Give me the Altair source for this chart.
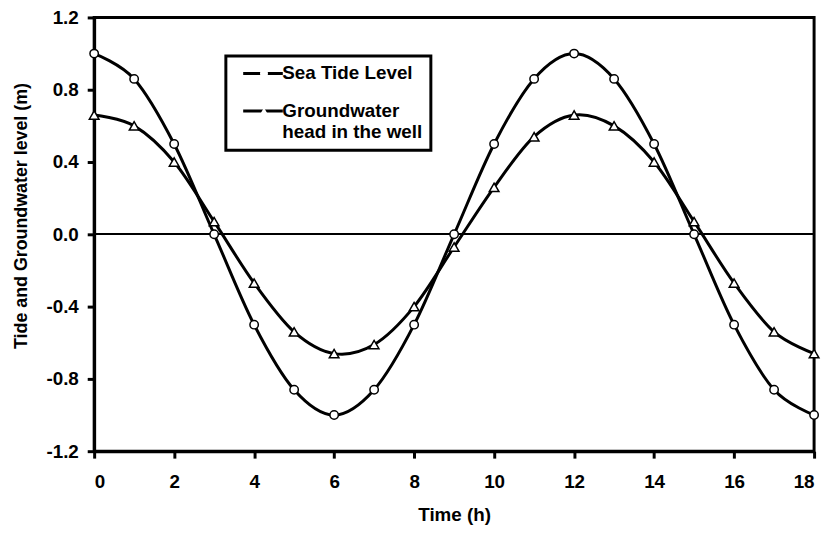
import altair as alt
import pandas as pd

hours = list(range(19))
tide = [1.00, 0.86, 0.50, 0.00, -0.50, -0.86, -1.00, -0.86, -0.50, 0.00,
        0.50, 0.86, 1.00, 0.86, 0.50, 0.00, -0.50, -0.86, -1.00]
groundwater = [0.66, 0.60, 0.40, 0.07, -0.27, -0.54, -0.66, -0.61, -0.40, -0.07,
               0.26, 0.54, 0.66, 0.60, 0.40, 0.07, -0.27, -0.54, -0.66]
series_names = ["Sea Tide Level", "Groundwater head in the well"]
x_ticks = [0, 2, 4, 6, 8, 10, 12, 14, 16, 18]
y_ticks = [-1.2, -0.8, -0.4, 0.0, 0.4, 0.8, 1.2]

rows = []
for h, v in zip(hours, tide):
    rows.append({"t": h, "v": v, "series": series_names[0]})
for h, v in zip(hours, groundwater):
    rows.append({"t": h, "v": v, "series": series_names[1]})
df = pd.DataFrame(rows)
marker_names = [n + " " for n in series_names]

FONT = "Liberation Sans"
LABEL_EXPR = ("indexof(datum.label, 'Groundwater') >= 0 ? "
              "['Groundwater', 'head in the well'] : datum.label")

x_enc = alt.X("t:Q", scale=alt.Scale(domain=[0, 18], nice=False),
              axis=alt.Axis(values=x_ticks, title="Time (h)", labelPadding=15,
                            titleY=55, titleBaseline="top"))
y_enc = alt.Y("v:Q", scale=alt.Scale(domain=[-1.2, 1.2], nice=False),
              axis=alt.Axis(values=y_ticks, title="Tide and Groundwater level (m)",
                            labelExpr="replace(format(datum.value, '.1f'), '\u2212', '-')",
                            labelPadding=9, titleX=-64, titleY=200, titleFontSize=18))

zero = alt.Chart(df).mark_rule(color="black", strokeWidth=1).encode(
    y=alt.datum(0)
)

common_legend = dict(
    title=None, orient="none", legendX=133, legendY=39,
    labelExpr=LABEL_EXPR, labelFont=FONT, labelFontSize=19, labelFontWeight="bold",
    labelColor="black", labelLimit=400, rowPadding=18, padding=8,
    symbolOpacity=1,
)

# legend A: line glyph + labels + frame
line_legend = alt.Legend(
    symbolType="M-4,0L4,0", symbolSize=100, symbolStrokeWidth=3,
    symbolStrokeColor="black", symbolOffset=20, labelOffset=10,
    strokeColor="black", fillColor="white", zindex=0, **common_legend,
)
lines = alt.Chart(df).mark_line(strokeWidth=3, interpolate="cardinal").encode(
    x=x_enc, y=y_enc,
    color=alt.Color("series:N", scale=alt.Scale(domain=series_names, range=["black", "black"]),
                    legend=line_legend),
)

# legend B: marker glyph drawn over the line glyph, invisible labels keep same layout
point_legend = alt.Legend(
    symbolSize=64, symbolStrokeWidth=1.5, symbolFillColor="white",
    symbolStrokeColor="black", symbolOffset=21, labelOffset=10, labelOpacity=0,
    zindex=1, **common_legend,
)
points = alt.Chart(df).transform_calculate(
    marker="datum.series + ' '"
).mark_point(filled=False, fill="white", strokeWidth=1.5, opacity=1).encode(
    x="t:Q", y="v:Q",
    shape=alt.Shape("marker:N",
                    scale=alt.Scale(domain=marker_names, range=["circle", "triangle-up"]),
                    legend=point_legend),
    color=alt.Color("marker:N",
                    scale=alt.Scale(domain=marker_names, range=["black", "black"]),
                    legend=None),
    size=alt.condition("datum.series == 'Sea Tide Level'", alt.value(72), alt.value(95)),
)

chart = alt.layer(zero, lines, points).resolve_scale(
    color="independent"
).properties(
    width=727, height=438,
    autosize=alt.AutoSizeParams(type="none"),
    padding={"left": 87, "top": 7, "right": 9, "bottom": 72},
).configure_view(
    stroke="black", strokeWidth=3
).configure_axis(
    grid=False, domainColor="black", domainWidth=3, tickColor="black",
    tickWidth=3, tickSize=7, labelFont=FONT, labelFontSize=19,
    labelFontWeight="bold", labelColor="black", titleFont=FONT,
    titleFontSize=19, titleFontWeight="bold", titleColor="black",
).configure_legend(
    strokeWidth=3
)

chart.save("out.html", embed_options={"renderer": "svg", "actions": False})
